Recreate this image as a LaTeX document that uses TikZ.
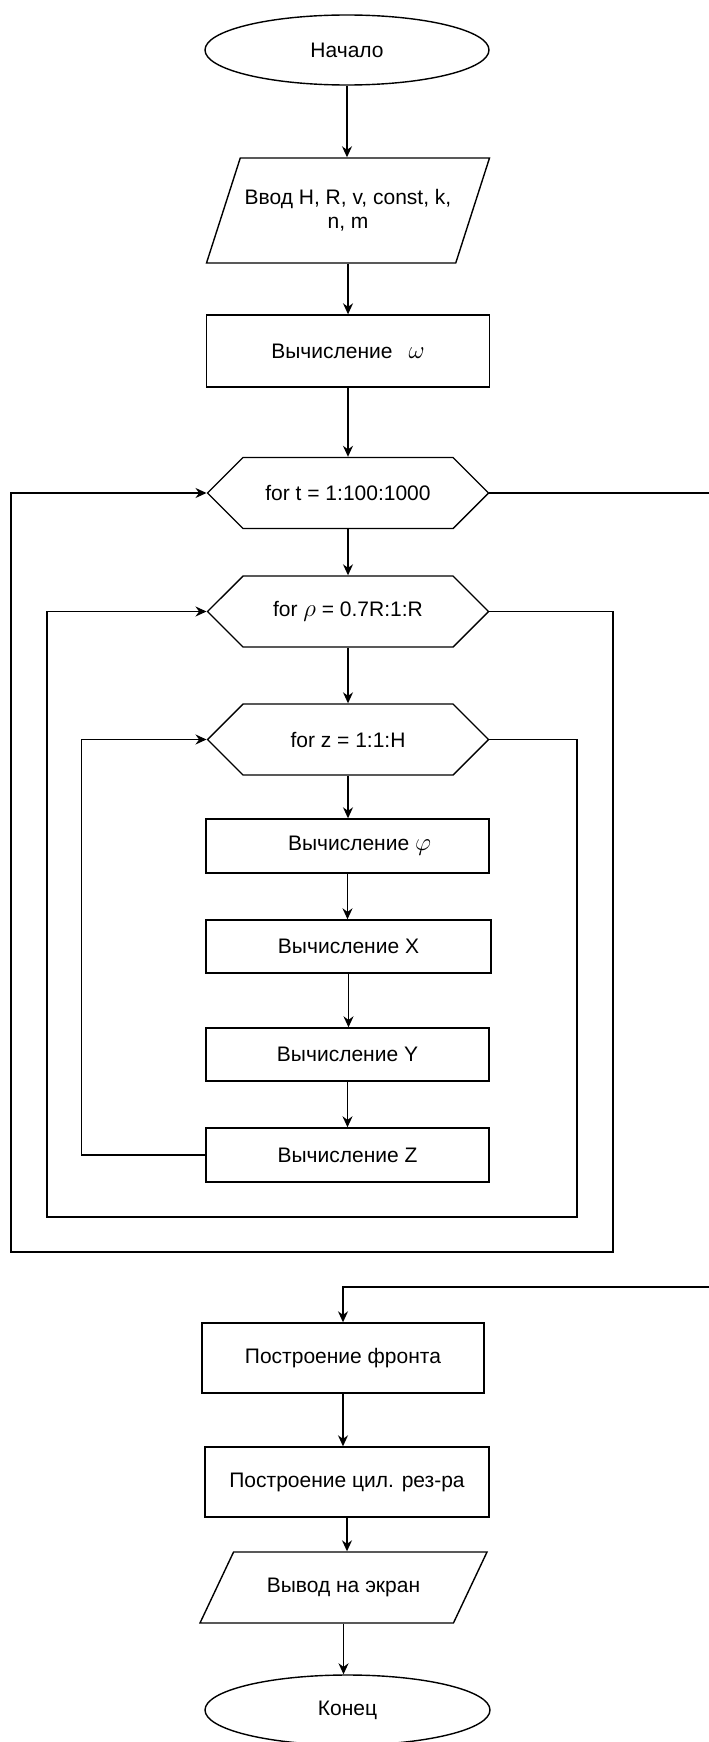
\documentclass[tikz,border=0pt]{standalone}
\usepackage{fontspec}
\setmainfont{Liberation Sans}
\usetikzlibrary{arrows.meta,shapes.geometric,shapes.symbols}

\begin{document}
\begin{tikzpicture}[x=1pt,y=-1pt,line width=1.4pt,
  every node/.style={font=\fontsize{21}{24}\selectfont,inner sep=0pt,align=center},
  term/.style={draw,ellipse,minimum width=284pt,minimum height=70pt},
  proc/.style={draw,rectangle,minimum width=283pt,minimum height=#1},
  proc/.default=70pt,
  io/.style={draw,trapezium,trapezium stretches body,minimum width=283pt},
  loophead/.style={draw,signal,signal to=west and east,signal pointer angle=90,minimum width=281pt,minimum height=71pt},
  flow/.style={-{Stealth[length=11pt,width=10pt]}}]
\useasboundingbox (0,0) rectangle (709,1742);
% main column
\node[term] (start) at (347,50) {Начало};
\node[io,trapezium left angle=72,trapezium right angle=108,inner ysep=31pt,minimum height=105pt] (input) at (348,210.5) {Ввод H, R, v, const, k,\\n, m};
\node[proc=72pt] (omega) at (348,351) {Вычисление\hspace{16pt}{\fontsize{27}{27}\selectfont$\omega$}};
\node[loophead] (loopt) at (348,493) {for t = 1:100:1000};
\node[loophead] (looprho) at (348,611.5) {for {\fontsize{25}{25}\selectfont$\rho$} = 0.7R:1:R};
\node[loophead] (loopz) at (348,739.5) {for z = 1:1:H};
% loop body
\node[proc=54pt] (phi) at (347.5,846) {\hspace{24pt}Вычисление {\fontsize{24}{24}\selectfont$\varphi$}};
\node[proc=53pt,minimum width=285pt] (calcx) at (348.5,946.5) {Вычисление X};
\node[proc=53pt] (calcy) at (347.5,1054.5) {Вычисление Y};
\node[proc=54pt] (calcz) at (347.5,1155) {Вычисление Z};
% after the loops
\node[proc=70pt,minimum width=282pt] (front) at (343,1358) {Построение фронта};
\node[proc=70pt,minimum width=284pt] (cyl) at (347,1482) {Построение цил. рез-ра};
\node[io,trapezium left angle=64,trapezium right angle=116,inner ysep=25pt,minimum height=71pt,minimum width=287pt] (output) at (343.5,1587.5) {Вывод на экран};
\node[term,minimum width=285pt] (finish) at (347.5,1710) {Конец};

\foreach \a/\b in {start/input,input/omega,omega/loopt,loopt/looprho,looprho/loopz,loopz/phi,phi/calcx,calcx/calcy,calcy/calcz,front/cyl,cyl/output,output/finish}
  \draw[flow] (\a.south) -- (\a.south |- \b.north);

\coordinate (zexit) at (577,1217);
\coordinate (rhoback) at (47,1217);
\coordinate (rhoexit) at (613,1252);
\coordinate (tback) at (11,1252);
\coordinate (tturn) at (730,1287);
\draw[flow] (calcz.west) -- ++(-124,0) |- (loopz.west);
\draw[flow] (loopz.east) -| (zexit) -- (rhoback) |- (looprho.west);
\draw[flow] (looprho.east) -| (rhoexit) -- (tback) |- (loopt.west);
\draw[flow] (loopt.east) -| (tturn) -| (front.north);
\end{tikzpicture}
\end{document}
